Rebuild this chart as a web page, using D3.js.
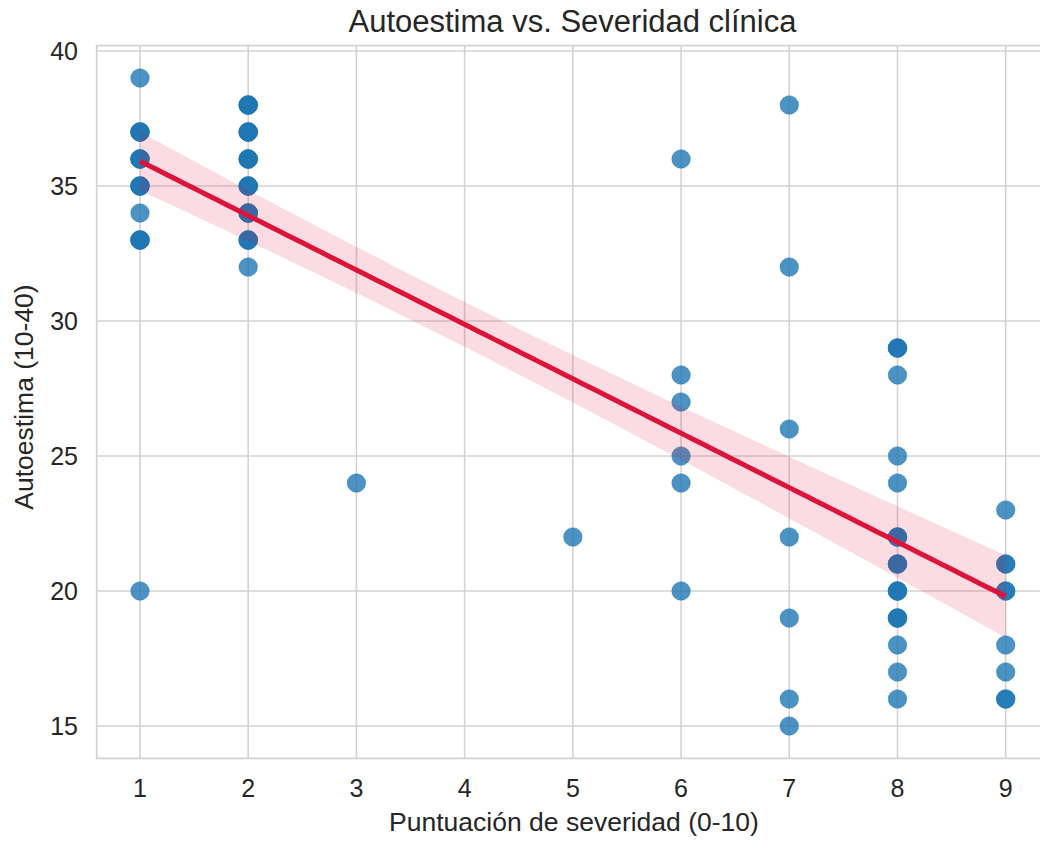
<!DOCTYPE html>
<html>
<head>
<meta charset="utf-8">
<script src="https://cdn.jsdelivr.net/npm/d3@7"></script>
<style>
  html, body { margin: 0; padding: 0; background: #fff; }
  svg { display: block; font-family: "Liberation Sans", Arial, sans-serif; }
</style>
</head>
<body>
<svg id="chart" width="1040" height="841"></svg>
<script>
const severity   = [1, 1, 1, 1, 1, 1, 1,  2, 2, 2, 2, 2, 2, 2,  3,  5,  6, 6, 6, 6, 6, 6,  7, 7, 7, 7, 7, 7, 7,  8, 8, 8, 8, 8, 8, 8, 8, 8, 8, 8,  9, 9, 9, 9, 9, 9];
const selfEsteem = [39,37,36,35,34,33,20, 38,37,36,35,34,33,32, 24, 22, 36,28,27,25,24,20, 38,32,26,22,19,16,15, 29,28,25,24,22,21,20,19,18,17,16, 23,21,20,18,17,16];
const counts     = [1, 4, 4, 4, 1, 4, 1,  4, 4, 4, 4, 4, 4, 1,  1,  1,  1, 1, 1, 1, 1, 1,  1, 1, 1, 1, 1, 1, 1,  3, 1, 1, 1, 3, 3, 3, 3, 1, 1, 1,  1, 2, 2, 1, 1, 2];
const xTicks = [1, 2, 3, 4, 5, 6, 7, 8, 9];
const yTicks = [15, 20, 25, 30, 35, 40];
const titleText = "Autoestima vs. Severidad clínica";
const xLabel = "Puntuación de severidad (0-10)";
const yLabel = "Autoestima (10-40)";

// expand into observations
const obs = [];
severity.forEach((sx, i) => { for (let k = 0; k < counts[i]; k++) obs.push([sx, selfEsteem[i]]); });

// ---- Layout ----
const svg = d3.select("#chart");
const x = d3.scaleLinear().domain([0.6, 9.4]).range([96.7, 1049]);
const y = d3.scaleLinear().domain([13.8, 40.2]).range([758.4, 45.6]);
const gridColor = "#d3d3d3";
const textColor = "#262626";

const g = svg.append("g");
g.selectAll("line.vg").data(xTicks).enter().append("line")
  .attr("x1", d => x(d)).attr("x2", d => x(d))
  .attr("y1", y(40.2)).attr("y2", y(13.8))
  .attr("stroke", gridColor).attr("stroke-width", 1.6);
g.selectAll("line.hg").data(yTicks).enter().append("line")
  .attr("x1", x(0.6)).attr("x2", x(9.4))
  .attr("y1", d => y(d)).attr("y2", d => y(d))
  .attr("stroke", gridColor).attr("stroke-width", 1.6);
g.append("rect")
  .attr("x", x(0.6)).attr("y", y(40.2))
  .attr("width", x(9.4) - x(0.6)).attr("height", y(13.8) - y(40.2))
  .attr("fill", "none").attr("stroke", gridColor).attr("stroke-width", 1.8);

// ---- Regression with 95% CI (robust / sandwich SE) ----
const n = obs.length;
const mx = d3.mean(obs, d => d[0]), my = d3.mean(obs, d => d[1]);
let sxx = 0, sxy = 0;
obs.forEach(([a, b]) => { sxx += (a - mx) ** 2; sxy += (a - mx) * (b - my); });
const slope = sxy / sxx, intercept = my - slope * mx;
const resid = obs.map(([a, b]) => b - (intercept + slope * a));
const xmin = d3.min(obs, d => d[0]), xmax = d3.max(obs, d => d[0]);
const gridX = d3.range(0, 101).map(i => xmin + (xmax - xmin) * i / 100);
const band = gridX.map(xv => {
  let v = 0;
  obs.forEach(([a], i) => { const w = 1 / n + (xv - mx) * (a - mx) / sxx; v += w * w * resid[i] * resid[i]; });
  const half = 1.96 * Math.sqrt(v);
  const yh = intercept + slope * xv;
  return { x: xv, y: yh, lo: yh - half, hi: yh + half };
});

// scatter
g.selectAll("circle").data(obs).enter().append("circle")
  .attr("cx", d => x(d[0])).attr("cy", d => y(d[1])).attr("r", 9.3)
  .attr("fill", "#1f77b4").attr("fill-opacity", 0.8)
  .attr("stroke", "#1f77b4").attr("stroke-opacity", 0.5).attr("stroke-width", 0.8);

g.append("path").datum(band)
  .attr("d", d3.area().x(d => x(d.x)).y0(d => y(d.lo)).y1(d => y(d.hi)))
  .attr("fill", "#dc143c").attr("fill-opacity", 0.15);
g.append("path").datum(band)
  .attr("d", d3.line().x(d => x(d.x)).y(d => y(d.y)))
  .attr("fill", "none").attr("stroke", "#dc143c").attr("stroke-width", 5);

// tick labels
svg.selectAll("text.xt").data(xTicks).enter().append("text")
  .attr("x", d => x(d)).attr("y", 797)
  .attr("text-anchor", "middle").attr("font-size", 25).attr("fill", textColor)
  .text(d => d);
svg.selectAll("text.yt").data(yTicks).enter().append("text")
  .attr("x", 78).attr("y", d => y(d) + 9)
  .attr("text-anchor", "end").attr("font-size", 25).attr("fill", textColor)
  .text(d => d);

// labels
svg.append("text").attr("x", 574).attr("y", 831)
  .attr("text-anchor", "middle").attr("font-size", 26.5).attr("fill", textColor)
  .text(xLabel);
svg.append("text")
  .attr("transform", `translate(33, 397) rotate(-90)`)
  .attr("text-anchor", "middle").attr("font-size", 26.5).attr("fill", textColor)
  .text(yLabel);
svg.append("text").attr("x", 572.5).attr("y", 32)
  .attr("text-anchor", "middle").attr("font-size", 31).attr("fill", textColor)
  .text(titleText);
</script>
</body>
</html>
